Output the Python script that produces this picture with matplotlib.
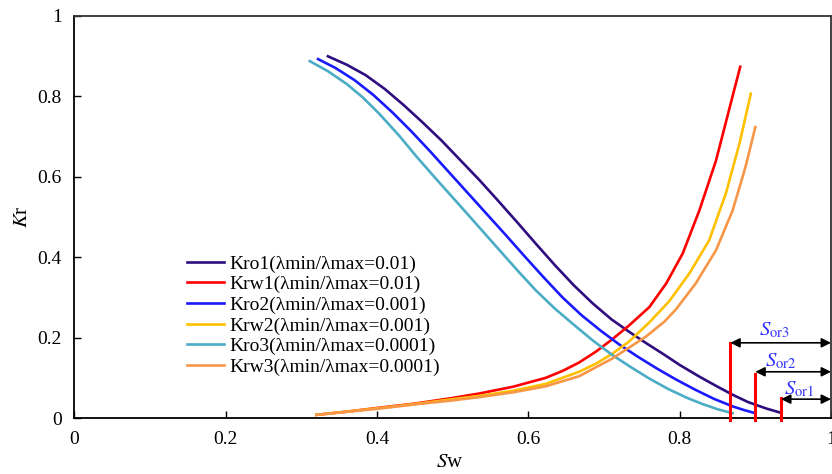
import numpy as np
import matplotlib.pyplot as plt

plt.rcParams['font.family'] = ['Liberation Serif', 'DejaVu Serif']
plt.rcParams['mathtext.fontset'] = 'stix'

# 曲線データ
sw_kro1 = [0.335, 0.36, 0.385, 0.41, 0.435, 0.46, 0.485, 0.51, 0.535, 0.56, 0.585, 0.61, 0.635,
           0.66, 0.685, 0.71, 0.735, 0.755, 0.78, 0.80, 0.826, 0.85, 0.87, 0.89, 0.914, 0.934]
kro1 = [0.899, 0.878, 0.852, 0.818, 0.778, 0.735, 0.690, 0.641, 0.592, 0.540, 0.487, 0.433, 0.380,
        0.330, 0.285, 0.245, 0.212, 0.187, 0.157, 0.132, 0.103, 0.078, 0.058, 0.040, 0.024, 0.013]

sw_krw1 = [0.32, 0.36, 0.40, 0.45, 0.50, 0.535, 0.58, 0.623, 0.645, 0.667, 0.69, 0.711, 0.733,
           0.76, 0.782, 0.804, 0.826, 0.848, 0.865, 0.880]
krw1 = [0.008, 0.016, 0.025, 0.036, 0.050, 0.061, 0.078, 0.100, 0.117, 0.138, 0.166, 0.196, 0.230,
        0.276, 0.334, 0.409, 0.516, 0.640, 0.764, 0.873]

sw_kro2 = [0.322, 0.345, 0.37, 0.395, 0.42, 0.445, 0.47, 0.495, 0.52, 0.545, 0.57, 0.595, 0.62,
           0.645, 0.67, 0.695, 0.72, 0.745, 0.77, 0.795, 0.82, 0.845, 0.87, 0.885, 0.90]
kro2 = [0.892, 0.870, 0.840, 0.803, 0.760, 0.713, 0.663, 0.611, 0.559, 0.507, 0.455, 0.402, 0.350,
        0.300, 0.256, 0.218, 0.183, 0.152, 0.123, 0.096, 0.071, 0.048, 0.029, 0.020, 0.012]

sw_krw2 = [0.32, 0.40, 0.45, 0.50, 0.535, 0.58, 0.623, 0.667, 0.69, 0.711, 0.733, 0.76, 0.786,
           0.813, 0.839, 0.861, 0.879, 0.894]
krw2 = [0.008, 0.024, 0.035, 0.047, 0.055, 0.068, 0.085, 0.115, 0.136, 0.160, 0.190, 0.238, 0.290,
        0.360, 0.442, 0.558, 0.682, 0.806]

sw_kro3 = [0.311, 0.335, 0.36, 0.381, 0.403, 0.43, 0.452, 0.48, 0.51, 0.535, 0.56, 0.585, 0.61,
           0.635, 0.66, 0.685, 0.71, 0.735, 0.76, 0.785, 0.81, 0.83, 0.85, 0.87]
kro3 = [0.887, 0.862, 0.830, 0.797, 0.756, 0.700, 0.650, 0.590, 0.527, 0.474, 0.421, 0.368, 0.317,
        0.272, 0.232, 0.193, 0.158, 0.127, 0.098, 0.072, 0.050, 0.035, 0.022, 0.012]

sw_krw3 = [0.32, 0.40, 0.45, 0.50, 0.535, 0.58, 0.623, 0.667, 0.711, 0.755, 0.78, 0.795, 0.821,
           0.848, 0.870, 0.887, 0.900]
krw3 = [0.008, 0.023, 0.034, 0.044, 0.052, 0.064, 0.079, 0.104, 0.148, 0.202, 0.240, 0.270, 0.334,
        0.417, 0.516, 0.624, 0.723]

# 残留油飽和度の位置
sor_sw = [0.934, 0.90, 0.867]
sor_top = [0.05, 0.109, 0.186]
sor_arrow_y = [0.047, 0.115, 0.187]
sor_labels = [r'$S_{\mathrm{or1}}$', r'$S_{\mathrm{or2}}$', r'$S_{\mathrm{or3}}$']
sor_label_xy = [(0.958, 0.07), (0.934, 0.14), (0.925, 0.218)]

fig = plt.figure(figsize=(8.32, 4.74), dpi=100)
ax = fig.add_axes([0.0895, 0.118, 0.9093, 0.849])

lw = 1.9
ax.plot(sw_kro1, kro1, color='#2E0D80', lw=lw, label='Kro1(λmin/λmax=0.01)')
ax.plot(sw_krw1, krw1, color='#FF0000', lw=lw, label='Krw1(λmin/λmax=0.01)')
ax.plot(sw_kro2, kro2, color='#1A1AFF', lw=lw, label='Kro2(λmin/λmax=0.001)')
ax.plot(sw_krw2, krw2, color='#FFC000', lw=lw, label='Krw2(λmin/λmax=0.001)')
ax.plot(sw_kro3, kro3, color='#4BACC6', lw=lw, label='Kro3(λmin/λmax=0.0001)')
ax.plot(sw_krw3, krw3, color='#F79646', lw=lw, label='Krw3(λmin/λmax=0.0001)')

for x, top, ya, lab, (lx, ly) in zip(sor_sw, sor_top, sor_arrow_y, sor_labels, sor_label_xy):
    ax.plot([x, x], [-0.005, top], color='#FF0000', lw=2.2, clip_on=False, zorder=4)
    ax.annotate('', xy=(1.0, ya), xytext=(x, ya),
                arrowprops=dict(arrowstyle='<|-|>', color='black', lw=1.2,
                                mutation_scale=14, shrinkA=0, shrinkB=0),
                annotation_clip=False, zorder=5)
    ax.text(lx, ly, lab, color='#3333FF', fontsize=15, ha='center', va='center')

ax.set_xlim(0, 1)
ax.set_ylim(0, 1)
ax.set_xticks([0, 0.2, 0.4, 0.6, 0.8, 1])
ax.set_xticklabels(['0', '0.2', '0.4', '0.6', '0.8', '1'])
ax.set_yticks([0, 0.2, 0.4, 0.6, 0.8, 1])
ax.set_yticklabels(['0', '0.2', '0.4', '0.6', '0.8', '1'])
ax.tick_params(direction='in', length=5, width=1, labelsize=14, pad=9,
               top=False, right=False)
for s in ax.spines.values():
    s.set_linewidth(1.3)
ax.spines['top'].set_color('#333333')
ax.spines['right'].set_color('#333333')

ax.set_xlabel(r'$S$w', fontsize=15)
ax.xaxis.set_label_coords(0.496, -0.088)
ax.set_ylabel(r'$K$r', fontsize=15)
ax.yaxis.set_label_coords(-0.056, 0.5)

ax.legend(loc='upper left', bbox_to_anchor=(0.149, 0.405), frameon=False,
          fontsize=14, handlelength=1.9, handletextpad=0.25, labelspacing=0.15,
          borderpad=0, borderaxespad=0)

plt.savefig('out.png', dpi=100)
